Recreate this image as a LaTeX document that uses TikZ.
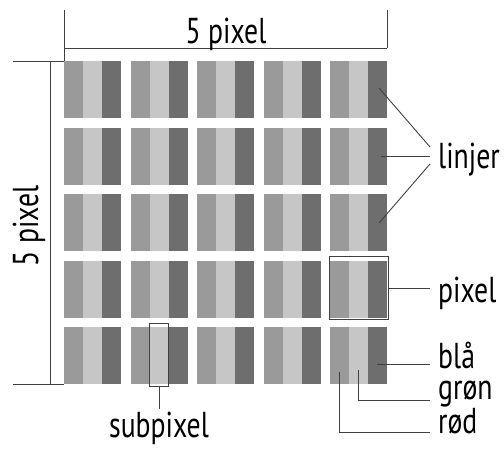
\documentclass[tikz,border=0pt]{standalone}
\usepackage{fontspec}
\setmainfont{PT Sans}[FakeStretch=0.77]
\usetikzlibrary{positioning}

\definecolor{subred}{HTML}{9A9A9A}
\definecolor{subgreen}{HTML}{C6C6C6}
\definecolor{subblue}{HTML}{6E6E6E}

\tikzset{
    labeltext/.style={font=\fontsize{36}{42}\selectfont, inner sep=0pt},
    sidelabel/.style={labeltext, anchor=base west, inner xsep=8pt},
    thinline/.style={line width=0.9pt, color=black!75},
    markbox/.style={draw, thinline, inner sep=0pt, anchor=north west}
}

\begin{document}
\begin{tikzpicture}[x=1pt,y=-1pt]
    \useasboundingbox (0,0) rectangle (504,451);

    % 5 x 5 pixels, each of three subpixels
    \foreach \i in {0,...,4}
      \foreach \j in {0,...,4} {
        \fill[subred]   ({64+66.5*\i},{61+66.5*\j}) rectangle +(19,57);
        \fill[subgreen] ({83+66.5*\i},{61+66.5*\j}) rectangle +(19,57);
        \fill[subblue]  ({102+66.5*\i},{61+66.5*\j}) rectangle +(19,57);
      }

    % width
    \coordinate (top left) at (64,10);
    \coordinate (top right) at (387,10);
    \coordinate (dim left) at (64,48);
    \coordinate (dim right) at (387,48);
    \draw[thinline] (top left) -- (64,61);
    \draw[thinline] (top right) -- (dim right);
    \draw[thinline] (dim left) -- (dim right);
    \node[labeltext, anchor=base] (width label) at (226,43) {5 pixel};

    % height
    \coordinate (side top) at (13,61);
    \coordinate (side bottom) at (13,384);
    \coordinate (dim top) at (50,61);
    \coordinate (dim bottom) at (50,384);
    \draw[thinline] (side top) -- (64,61);
    \draw[thinline] (side bottom) -- (64,384);
    \draw[thinline] (dim top) -- (dim bottom);
    \node[labeltext, anchor=base, rotate=90] (height label) at (38,226) {5 pixel};

    % linjer
    \node[sidelabel] (lines label) at (430,168) {linjer};
    \coordinate (line one) at (379,88);
    \coordinate (line two) at (381,156);
    \coordinate (line three) at (379,223);
    \draw[thinline] (line one) -- (lines label.west |- 0,147);
    \draw[thinline] (line two) -- (lines label.west |- 0,156);
    \draw[thinline] (line three) -- (lines label.west |- 0,164);

    % pixel
    \node[markbox, minimum width=59pt, minimum height=63pt] (pixel box) at (329,256) {};
    \node[sidelabel] (pixel label) at (430,302) {pixel};
    \draw[thinline] (pixel box.east) -- (pixel box.east -| pixel label.west);

    % subpixel
    \node[markbox, minimum width=19pt, minimum height=63pt] (subpixel box) at (149,323) {};
    \node[labeltext, anchor=base] (subpixel label) at (159,437) {subpixel};
    \draw[thinline] (subpixel box.south) -- ++(0,22);

    % blå, grøn, rød
    \node[sidelabel] (blue label) at (430,368) {blå};
    \node[sidelabel] (green label) at (430,399) {grøn};
    \node[sidelabel] (red label) at (430,433) {rød};
    \coordinate (blue dot) at (377,364);
    \coordinate (green dot) at (358,370);
    \coordinate (red dot) at (339,372);
    \draw[thinline] (blue dot) -- (blue dot -| blue label.west);
    \draw[thinline] (green dot) |- (green label.west |- 0,400);
    \draw[thinline] (red dot) |- (red label.west |- 0,432);
\end{tikzpicture}
\end{document}
